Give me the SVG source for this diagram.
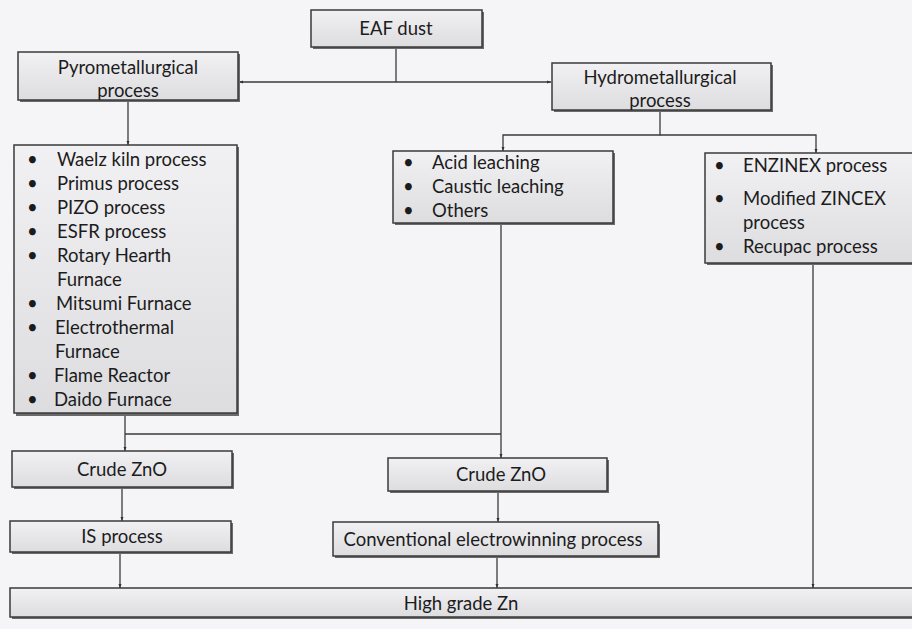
<svg xmlns="http://www.w3.org/2000/svg" width="912" height="629" viewBox="0 0 912 629">
<defs>
<linearGradient id="g" x1="0" y1="0" x2="0" y2="1"><stop offset="0" stop-color="#f1f1f3"/><stop offset="1" stop-color="#dddde0"/></linearGradient>
<marker id="a" markerWidth="5" markerHeight="5" refX="4" refY="2.5" orient="auto" markerUnits="userSpaceOnUse"><path d="M0,1 L4,2.5 L0,4 z" fill="#333"/></marker>
</defs>
<style>
.box{fill:url(#g);stroke:#3a3a3a;stroke-width:1.5}
.sh{fill:#6a6a6a}
text{font-family:Lato,"Open Sans","Liberation Sans",sans-serif;font-size:18.5px;fill:#1c1c1c}
.c{text-anchor:middle}
.ln{fill:none;stroke:#3a3a3a;stroke-width:1.3}
</style>
<rect width="912" height="629" fill="#f5f5f7"/>
<g id="connectors">
<path class="ln" d="M396,47 V82"/>
<path class="ln" d="M396,82 H239" marker-end="url(#a)"/>
<path class="ln" d="M396,82 H551" marker-end="url(#a)"/>
<path class="ln" d="M128,100 V145" marker-end="url(#a)"/>
<path class="ln" d="M660,110 V135 H503 V151" marker-end="url(#a)"/>
<path class="ln" d="M660,135 H816 V153" marker-end="url(#a)"/>
<path class="ln" d="M125,413 V451" marker-end="url(#a)"/>
<path class="ln" d="M125,434 H501"/>
<path class="ln" d="M501,223 V458" marker-end="url(#a)"/>
<path class="ln" d="M122,487 V521" marker-end="url(#a)"/>
<path class="ln" d="M498,491 V522" marker-end="url(#a)"/>
<path class="ln" d="M120,552 V588" marker-end="url(#a)"/>
<path class="ln" d="M497,556 V588" marker-end="url(#a)"/>
<path class="ln" d="M813,263 V588" marker-end="url(#a)"/>
</g>
<g id="eaf">
<rect class="sh" x="313" y="12" width="171" height="37"/>
<rect class="box" x="311" y="10" width="171" height="37"/>
<text class="c" x="396" y="35">EAF dust</text>
</g>
<g id="pyro">
<rect class="sh" x="20" y="54" width="220" height="48"/>
<rect class="box" x="18" y="52" width="220" height="48"/>
<text class="c" x="128" y="74">Pyrometallurgical</text>
<text class="c" x="128" y="97">process</text>
</g>
<g id="hydro">
<rect class="sh" x="554" y="65" width="219" height="47"/>
<rect class="box" x="552" y="63" width="219" height="47"/>
<text class="c" x="660" y="84">Hydrometallurgical</text>
<text class="c" x="660" y="107">process</text>
</g>
<g id="pyrolist">
<rect class="sh" x="16" y="147" width="223" height="269"/>
<rect class="box" x="14" y="145" width="223" height="268"/>
<text x="27" y="166">•</text><text x="57" y="166">Waelz kiln process</text>
<text x="27" y="190">•</text><text x="57" y="190">Primus process</text>
<text x="27" y="214">•</text><text x="57" y="214">PIZO process</text>
<text x="27" y="238">•</text><text x="57" y="238">ESFR process</text>
<text x="27" y="262">•</text><text x="57" y="262">Rotary Hearth</text>
<text x="57" y="286">Furnace</text>
<text x="27" y="310">•</text><text x="56" y="310">Mitsumi Furnace</text>
<text x="27" y="334">•</text><text x="55" y="334">Electrothermal</text>
<text x="55" y="358">Furnace</text>
<text x="27" y="382">•</text><text x="54" y="382">Flame Reactor</text>
<text x="27" y="406">•</text><text x="54" y="406">Daido Furnace</text>
</g>
<g id="acid">
<rect class="sh" x="395" y="153" width="220" height="72"/>
<rect class="box" x="393" y="151" width="220" height="72"/>
<text x="403" y="169">•</text><text x="432" y="169">Acid leaching</text>
<text x="403" y="193">•</text><text x="432" y="193">Caustic leaching</text>
<text x="403" y="217">•</text><text x="432" y="217">Others</text>
</g>
<g id="enzinex">
<rect class="sh" x="707" y="155" width="207" height="110"/>
<rect class="box" x="705" y="153" width="210" height="110"/>
<text x="714" y="172">•</text><text x="743" y="172">ENZINEX process</text>
<text x="714" y="205">•</text><text x="743" y="205">Modified ZINCEX</text>
<text x="743" y="229">process</text>
<text x="714" y="253">•</text><text x="743" y="253">Recupac process</text>
</g>
<g id="crude1">
<rect class="sh" x="14" y="453" width="220" height="36"/>
<rect class="box" x="12" y="451" width="220" height="36"/>
<text class="c" x="122" y="476">Crude ZnO</text>
</g>
<g id="crude2">
<rect class="sh" x="390" y="460" width="219" height="33"/>
<rect class="box" x="388" y="458" width="219" height="33"/>
<text class="c" x="501" y="481">Crude ZnO</text>
</g>
<g id="is">
<rect class="sh" x="12" y="523" width="221" height="31"/>
<rect class="box" x="10" y="521" width="221" height="31"/>
<text class="c" x="122" y="543">IS process</text>
</g>
<g id="conv">
<rect class="sh" x="335" y="524" width="325" height="34"/>
<rect class="box" x="333" y="522" width="325" height="34"/>
<text class="c" x="493" y="546">Conventional electrowinning process</text>
</g>
<g id="highzn">
<rect class="sh" x="12" y="590" width="910" height="29"/>
<rect class="box" x="10" y="588" width="910" height="29"/>
<text class="c" x="461" y="610">High grade Zn</text>
</g>
</svg>
